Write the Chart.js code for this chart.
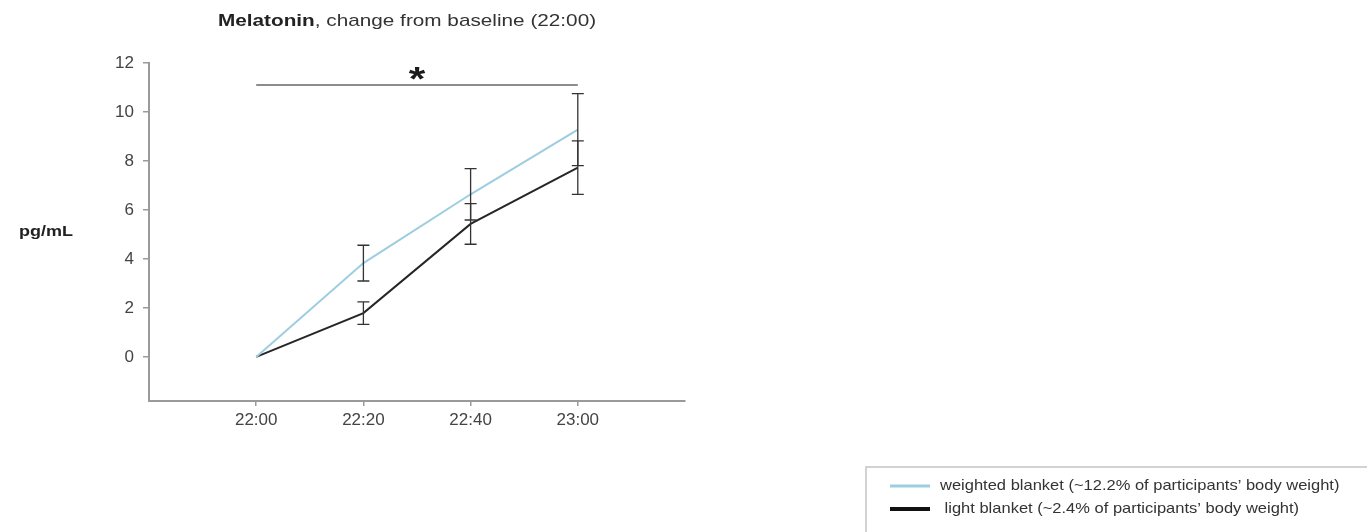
<!DOCTYPE html>
<html>
<head>
<meta charset="utf-8">
<title>Melatonin, change from baseline</title>
<script src="https://cdn.jsdelivr.net/npm/chart.js@4/dist/chart.umd.min.js"></script>
<style>
  html, body { margin: 0; padding: 0; background: #fff; }
  #wrap { width: 1367px; height: 532px; }
</style>
</head>
<body>
<div id="wrap"><canvas id="melatoninChart" width="1367" height="532"></canvas></div>
<script>
// Data
const times = ['22:00', '22:20', '22:40', '23:00'];
const weighted = [0, 3.83, 6.64, 9.28];
const weightedErr = [0, 0.73, 1.05, 1.47];
const light = [0, 1.79, 5.43, 7.73];
const lightErr = [0, 0.46, 0.83, 1.09];
const yTicks = [0, 2, 4, 6, 8, 10, 12];
const seriesNames = [
    'weighted blanket (~12.2% of participants\u2019 body weight)',
    ' light blanket (~2.4% of participants\u2019 body weight)'
];
const sigSpan = [0, 3];   // significance bar from 22:00 to 23:00
const sigLevel = 11.1;

const blue = '#9dcde0';
const dark = '#262626';
const axisGrey = '#9a9a9a';
const FONT = '"Liberation Sans", Arial, Helvetica, sans-serif';

// draw text squeezed/stretched horizontally (the source figure is a bit wide)
function drawText(ctx, str, x, y, font, sx, align, color) {
    ctx.save();
    ctx.font = font;
    ctx.fillStyle = color;
    ctx.textBaseline = 'middle';
    ctx.translate(x, y);
    ctx.scale(sx, 1);
    ctx.textAlign = align || 'left';
    ctx.fillText(str, 0, 0);
    const w = ctx.measureText(str).width * sx;
    ctx.restore();
    return w;
}

// error bars, significance bar, title, y label and the boxed legend
const extras = {
    id: 'extras',
    afterDatasetsDraw(chart) {
        const ctx = chart.ctx;
        const xs = chart.scales.x, ys = chart.scales.y;

        // error bars
        const sets = [[weighted, weightedErr], [light, lightErr]];
        ctx.save();
        ctx.strokeStyle = '#333';
        ctx.lineWidth = 1.3;
        sets.forEach(([vals, errs]) => {
            vals.forEach((v, i) => {
                if (!errs[i]) return;
                const x = xs.getPixelForValue(i);
                const top = ys.getPixelForValue(v + errs[i]);
                const bot = ys.getPixelForValue(v - errs[i]);
                ctx.beginPath();
                ctx.moveTo(x, top); ctx.lineTo(x, bot);
                ctx.moveTo(x - 6, top); ctx.lineTo(x + 6, top);
                ctx.moveTo(x - 6, bot); ctx.lineTo(x + 6, bot);
                ctx.stroke();
            });
        });
        ctx.restore();

        // significance bar + asterisk
        const sy = ys.getPixelForValue(sigLevel);
        ctx.save();
        ctx.strokeStyle = '#8c8c8c';
        ctx.lineWidth = 2;
        ctx.beginPath();
        ctx.moveTo(xs.getPixelForValue(sigSpan[0]), sy);
        ctx.lineTo(xs.getPixelForValue(sigSpan[1]), sy);
        ctx.stroke();
        ctx.restore();
        const midX = xs.getPixelForValue((sigSpan[0] + sigSpan[1]) / 2);
        drawText(ctx, '*', midX, sy - 4, 'bold 34px ' + FONT, 1.25, 'center', '#1a1a1a');

        // title: bold word then regular text
        let tx = 218;
        tx += drawText(ctx, 'Melatonin', tx, 21, 'bold 17px ' + FONT, 1.22, 'left', '#222');
        drawText(ctx, ', change from baseline (22:00)', tx, 21, '17px ' + FONT, 1.22, 'left', '#333');

        // y axis label
        drawText(ctx, 'pg/mL', 73, 232, 'bold 15px ' + FONT, 1.2, 'right', '#222');

        // legend box
        ctx.save();
        ctx.strokeStyle = '#c4c4c4';
        ctx.lineWidth = 1.5;
        ctx.strokeRect(866, 467, 520, 100);
        ctx.lineWidth = 3;
        ctx.strokeStyle = blue;
        ctx.beginPath(); ctx.moveTo(890, 486); ctx.lineTo(930, 486); ctx.stroke();
        ctx.lineWidth = 4;
        ctx.strokeStyle = '#111';
        ctx.beginPath(); ctx.moveTo(890, 509); ctx.lineTo(930, 509); ctx.stroke();
        ctx.restore();
        drawText(ctx, seriesNames[0], 940, 486, '15px ' + FONT, 1.1, 'left', '#333');
        drawText(ctx, seriesNames[1], 940, 509, '15px ' + FONT, 1.1, 'left', '#333');
    }
};

const ctx = document.getElementById('melatoninChart').getContext('2d');
const melatoninChart = new Chart(ctx, {
    type: 'line',
    data: {
        datasets: [{
            label: seriesNames[0],
            data: weighted.map((v, i) => ({ x: i, y: v })),
            borderColor: blue,
            borderWidth: 2,
            pointRadius: 0,
            tension: 0
        }, {
            label: seriesNames[1],
            data: light.map((v, i) => ({ x: i, y: v })),
            borderColor: dark,
            borderWidth: 2,
            pointRadius: 0,
            tension: 0
        }]
    },
    options: {
        responsive: false,
        animation: false,
        events: [],
        layout: {
            padding: { top: 63, right: 682, left: 0, bottom: 0 }
        },
        plugins: {
            legend: { display: false }, // drawn by the extras plugin
            tooltip: { enabled: false }
        },
        scales: {
            x: {
                type: 'linear',
                min: -1,
                max: 4,
                afterBuildTicks: (scale) => { scale.ticks = times.map((t, i) => ({ value: i })); },
                afterFit: (scale) => { scale.height = 131; },
                border: { display: true, color: axisGrey, width: 2 },
                grid: { drawOnChartArea: false, drawTicks: true, tickLength: 5, color: axisGrey, lineWidth: 1.5 },
                ticks: {
                    padding: 4,
                    color: '#444',
                    font: { family: FONT, size: 17 },
                    maxRotation: 0,
                    callback: (value) => times[value]
                }
            },
            y: {
                min: -1.8,
                max: 12,
                afterBuildTicks: (scale) => { scale.ticks = yTicks.map(v => ({ value: v })); },
                afterFit: (scale) => { scale.width = 149; },
                border: { display: true, color: axisGrey, width: 2 },
                grid: { drawOnChartArea: false, drawTicks: true, tickLength: 6, color: axisGrey, lineWidth: 1.5 },
                ticks: {
                    padding: 9,
                    color: '#444',
                    font: { family: FONT, size: 17 }
                }
            }
        }
    },
    plugins: [extras]
});
</script>
</body>
</html>
